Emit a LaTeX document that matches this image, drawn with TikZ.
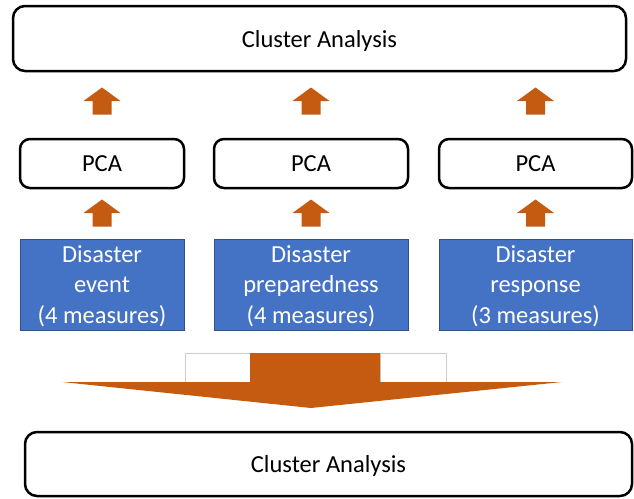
\documentclass[tikz,border=0pt]{standalone}
\usepackage{fontspec}
\setmainfont{Carlito}
\usetikzlibrary{calc}
\definecolor{blockblue}{HTML}{4472C4}
\definecolor{blockedge}{HTML}{2F528F}
\definecolor{arroworange}{HTML}{C55A11}
\begin{document}
\begin{tikzpicture}[x=1pt,y=-1pt, every node/.style={inner sep=0pt, outer sep=0pt, font=\fontsize{24.5}{30.5}\selectfont},
    whitebox/.style={draw=black, line width=2.5pt, rounded corners=10pt, fill=white, minimum height=49pt, text depth=0pt},
    bluebox/.style={draw=blockedge, line width=1pt, fill=blockblue, text=white, align=center, minimum height=91pt, text depth=0pt},
    uparrow/.pic={\fill[arroworange] (0,-13.5) -- (18.5,0) -- (9.5,0) -- (9.5,13.5) -- (-9.5,13.5) -- (-9.5,0) -- (-18.5,0) -- cycle;}]
\useasboundingbox (0,0) rectangle (634,498);
\node[whitebox, minimum width=613pt, minimum height=65pt, rounded corners=12pt] (top) at (319.5,38.5) {Cluster Analysis};
\node[whitebox, minimum width=164pt] (pcaA) at (102,163.5) {PCA};
\node[whitebox, minimum width=194pt] (pcaB) at (311,163.5) {PCA};
\node[whitebox, minimum width=193pt] (pcaC) at (535.5,163.5) {PCA};
\node[bluebox, minimum width=164pt] (event) at (102,284.5) {Disaster\\event\\(4 measures)};
\node[bluebox, minimum width=194pt] (prep) at (311,284.5) {Disaster\\preparedness\\(4 measures)};
\node[bluebox, minimum width=193pt] (resp) at (535.5,284.5) {Disaster\\response\\(3 measures)};
\node[whitebox, minimum width=607pt, minimum height=64pt, rounded corners=12pt] (bottom) at (328.5,464) {Cluster Analysis};
\pic at (pcaA |- 0,101) {uparrow};
\pic at (pcaB |- 0,101) {uparrow};
\pic at (pcaC |- 0,101) {uparrow};
\pic at (event |- 0,213) {uparrow};
\pic at (prep |- 0,213) {uparrow};
\pic at (resp |- 0,213) {uparrow};
\draw[gray!40, fill=white, line width=0.8pt] (185,353) rectangle (250,382) (380,353) rectangle (446,382);
\fill[arroworange] (250,353) -- (380,353) -- (380,382) -- (562,382) -- (311,408) -- (62,382) -- (250,382) -- cycle;
\end{tikzpicture}
\end{document}
